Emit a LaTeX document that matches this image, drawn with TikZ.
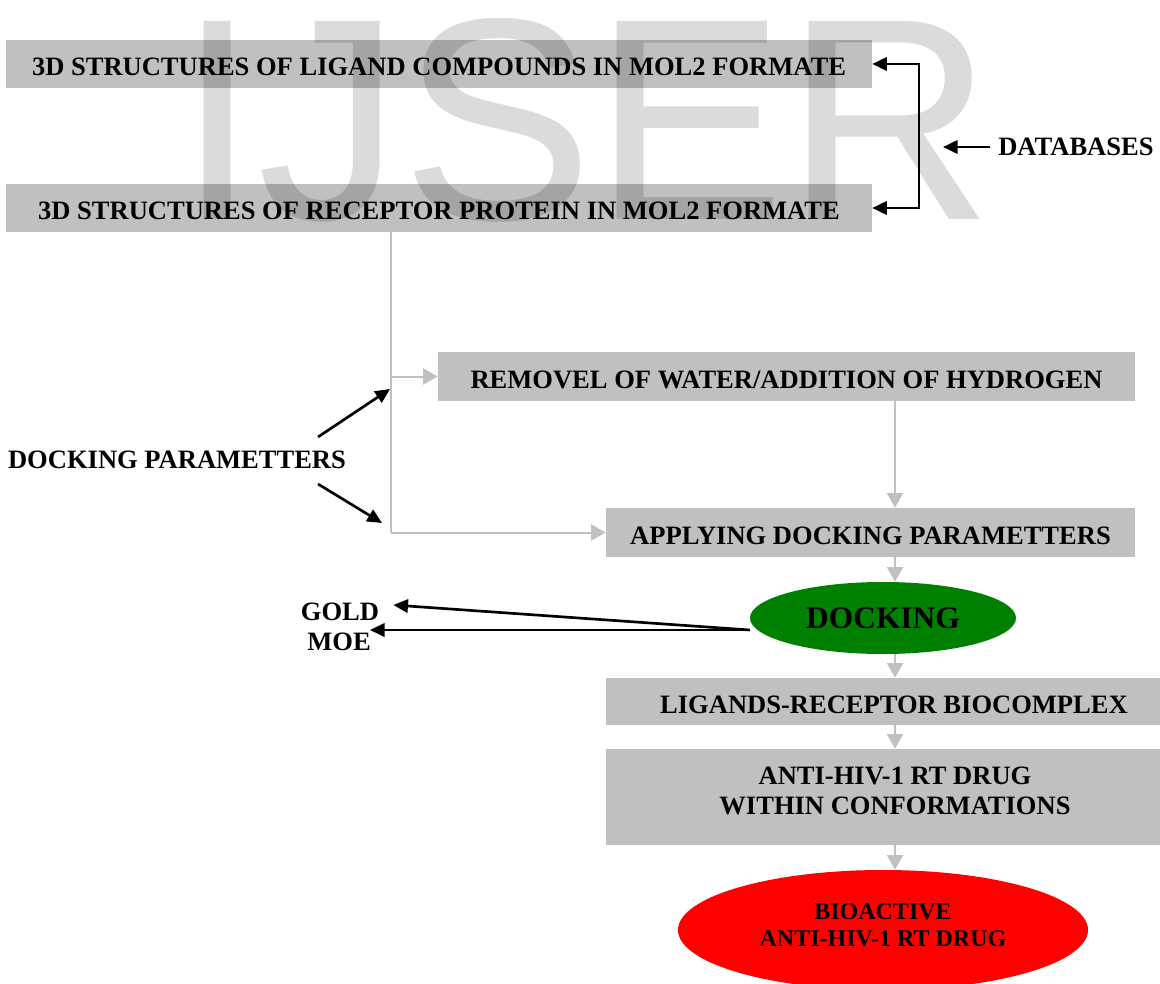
\documentclass[tikz,border=0pt]{standalone}
\usepackage{fontspec}
\setmainfont{Liberation Serif}
\newfontfamily\wmfamily{Liberation Sans}
\usetikzlibrary{arrows.meta,calc,shapes.geometric}
\definecolor{boxgray}{HTML}{C0C0C0}
\definecolor{dgreen}{RGB}{0,128,0}
\newcommand{\mainfs}{\fontsize{19.9pt}{22.5pt}\selectfont\bfseries}
\newcommand{\dockfs}{\fontsize{23.6pt}{26pt}\selectfont\bfseries}
\newcommand{\biofs}{\fontsize{18pt}{20.2pt}\selectfont\bfseries}
\newcommand{\wmfs}{\fontsize{216pt}{216pt}\selectfont\wmfamily}
\tikzset{
  box/.style={fill=boxgray, inner sep=0pt, align=center, font=\mainfs, text height=17.5pt, text depth=0pt},
  lbl/.style={inner sep=0pt, align=center, font=\mainfs},
  garrow/.style={draw=boxgray, line width=1.5pt, -{Triangle[length=11pt,width=12pt]}},
  gline/.style={draw=boxgray, line width=1.5pt},
  barrow/.style={draw=black, line width=2pt, -{Triangle[length=11pt,width=10pt]}},
  bline/.style={draw=black, line width=2pt},
}
\begin{document}
\begin{tikzpicture}[x=0.75pt,y=-0.75pt]
\useasboundingbox (0,0) rectangle (1160,984);
% boxes
\node[box, minimum width=649.5pt, minimum height=36pt] (box1) at (439,64) {3D STRUCTURES OF LIGAND COMPOUNDS IN MOL2 FORMATE};
\node[box, minimum width=649.5pt, minimum height=36pt] (box2) at (439,208) {3D STRUCTURES OF RECEPTOR PROTEIN IN MOL2 FORMATE};
\node[box, minimum width=522.75pt, minimum height=36.75pt] (remove) at (786.5,376.5) {REMOVEL OF WATER/ADDITION OF HYDROGEN};
\node[box, minimum width=396.75pt, minimum height=36.75pt] (apply) at (870.5,532.5) {APPLYING DOCKING PARAMETTERS};
\node[ellipse, fill=dgreen, inner sep=0pt, minimum width=199.5pt, minimum height=54pt, font=\dockfs] (docking) at (883,618) {DOCKING};
\node[box, minimum width=432pt, minimum height=35.25pt] (ligand) at (894,701.5) {LIGANDS-RECEPTOR BIOCOMPLEX};
\node[box, minimum width=433.5pt, minimum height=72pt] (anti) at (895,797) {};
\node[lbl] (antitxt) at (895,791) {ANTI-HIV-1 RT DRUG\\WITHIN CONFORMATIONS};
\node[ellipse, fill=red, inner sep=0pt, minimum width=307.5pt, minimum height=90pt] (bio) at (883,930) {};
\node[inner sep=0pt, align=center, font=\biofs] (biotxt) at (883,925) {BIOACTIVE\\ANTI-HIV-1 RT DRUG};
% labels
\node[lbl, anchor=west] (db) at (998,147) {DATABASES};
\node[lbl] (dparam) at (177,460) {DOCKING PARAMETTERS};
\node[lbl] (gold) at (340,612) {GOLD};
\node[lbl] (moe) at (339,642) {MOE};
% gray flow
\coordinate (ax) at (895,0);
\coordinate (j1) at (391,376.5);
\coordinate (j2) at (391,532.5);
\draw[gline] (box2.south -| j1) -- (j2);
\draw[garrow] (j1) -- (remove.west);
\draw[garrow] (j2) -- (apply.west);
\draw[garrow] (remove.south -| ax) -- (apply.north -| ax);
\draw[garrow] (apply.south -| ax) -- (docking.north -| ax);
\draw[garrow] (docking.south -| ax) -- (ligand.north -| ax);
\draw[garrow] (ligand.south -| ax) -- (anti.north -| ax);
\draw[garrow] (anti.south -| ax) -- (bio.north -| ax);
% databases bracket
\coordinate (bx) at (919,0);
\draw[bline, {Triangle[length=11pt,width=10pt]}-{Triangle[length=11pt,width=10pt]}] (box1.east) -- (box1.east -| bx) -- (box2.east -| bx) -- (box2.east);
\draw[barrow] ([xshift=-6pt]db.west) -- ($(bx |- db.west)+(24,0)$);
% docking parameters arrows
\coordinate (p1) at (318,437);
\coordinate (p1t) at (390,389);
\coordinate (p2) at (318,484);
\coordinate (p2t) at (382,523);
\draw[barrow] (p1) -- (p1t);
\draw[barrow] (p2) -- (p2t);
% gold / moe arrows
\coordinate (dk) at ([yshift=-9pt]docking.west);
\draw[barrow] (dk) -- ($(gold.east)+(14,-7)$);
\draw[barrow] (dk) -- ($(moe.east)+(-1,-12)$);
% watermark
\node[anchor=base west, inner sep=0pt, text=black, text opacity=0.14, font=\wmfs] (wm) at (177,220) {IJSER};
\end{tikzpicture}
\end{document}
